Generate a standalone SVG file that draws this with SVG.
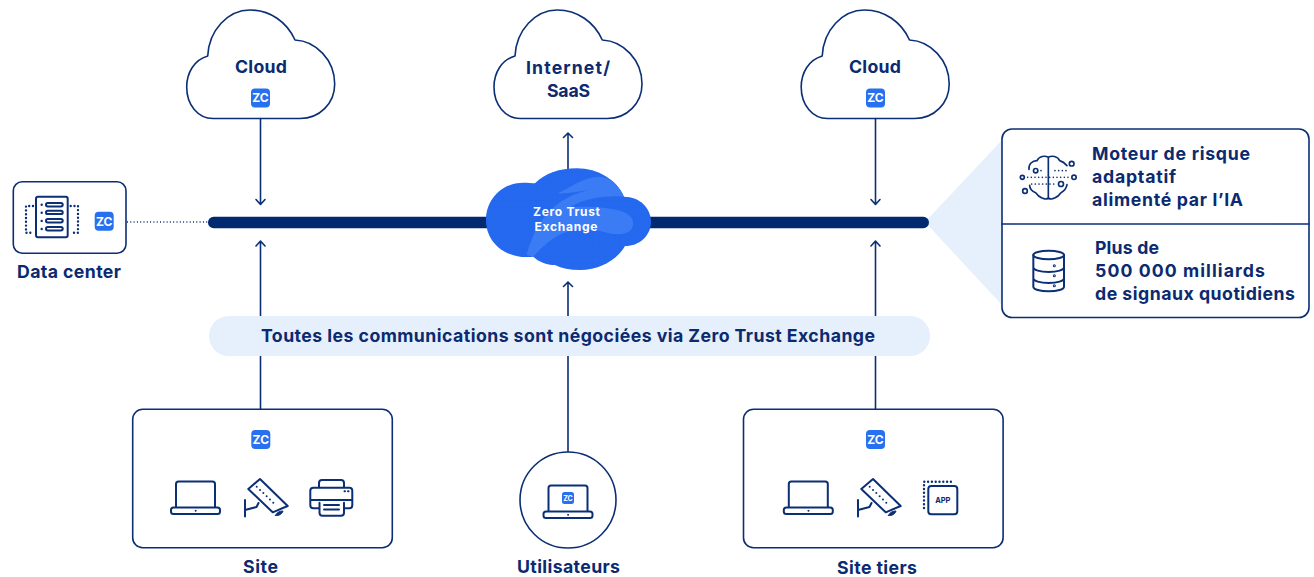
<svg xmlns="http://www.w3.org/2000/svg" width="1314" height="577" viewBox="0 0 1314 577">
<style>
text{font-family:"Inter","Liberation Sans",sans-serif;font-weight:700;fill:#0b2a6f}
.l{font-size:17.700px;text-anchor:middle}
.r{font-size:17.700px}
.z{font-size:12px;fill:#fff;text-anchor:middle}
.w{font-size:12px;fill:#fff;text-anchor:middle}
.s{fill:none;stroke:#0b2f75;stroke-width:1.600;stroke-linejoin:round;stroke-linecap:round}
.i{fill:none;stroke:#0b2f75;stroke-width:2;stroke-linejoin:round;stroke-linecap:round}
.d{fill:none;stroke:#0b2f75;stroke-width:2.400;stroke-linecap:round;stroke-dasharray:0 3.800}
.b{fill:#2770f0}
.bx{fill:#fff;stroke:#0b2f75;stroke-width:1.600}
</style>
<defs>
<path id="cloud" d="M213 118.500H300C320 118.500 334.700 103 334.700 84C334.700 60 316 41 295 40C287 22 270 10 250 10C228 10 209 30 207.700 56C194 60 186.700 73 186.700 87C186.700 105 198 118.500 213 118.500Z"/>
<g id="laptop"><path d="M-19.500 507V484a2.500 2.500 0 0 1 2.500-2.500H17a2.500 2.500 0 0 1 2.500 2.500V507"/><rect x="-24.500" y="507.500" width="49" height="6.500" rx="2.500"/><circle cx="0" cy="510.800" r=".5" fill="#0b2f75" style="stroke-width:1"/></g>
<g id="cam"><path d="M260 479L287.700 506L272.700 512.300L248.300 489Z"/><path d="M245 500V516.500M245 510L256.500 507L258.500 503"/><path d="M256.700 486.700L275 504.300" stroke-dasharray="0 4.600"/><path d="M275.500 515.500C276.500 512.500 279.500 511 283 511C282 514 279 516 275.500 515.500Z" fill="#0b2f75" style="stroke-width:1"/></g>
<g id="zc"><rect x="-9.500" y="-9.500" width="19" height="19" rx="4" class="b"/><text class="z" y="4.300">ZC</text></g>
<pattern id="dots" width="7" height="7" patternUnits="userSpaceOnUse"><circle cx="3.500" cy="3.500" r="1.600" fill="#1f63e4" opacity=".55"/></pattern>
</defs>

<path id="fan" d="M925 222L1002 140V305Z" fill="#e6effc"/>

<g id="connectors" class="s">
<path d="M260.500 118.500V204M256 199.500L260.500 204.500L265 199.500"/>
<path d="M875.500 118.500V204M871 199.500L875.500 204.500L880 199.500"/>
<path d="M260.500 409V241.500M256 246L260.500 241L265 246"/>
<path d="M875.500 409V241.500M871 246L875.500 241L880 246"/>
<path d="M568 170V133M563.500 137.500L568 133L572.500 137.500"/>
<path d="M568 452V282M563.500 286.500L568 282L572.500 286.500"/>
<path d="M127 222H208" style="stroke-width:1.500;stroke-dasharray:1 2.300;stroke-linecap:butt"/>
</g>

<rect id="bar" x="208" y="216.800" width="721" height="11.400" rx="5.700" fill="#002a6f"/>

<g id="banner">
<rect x="209" y="316" width="721" height="40" rx="20" fill="#e6effc"/>
<text x="568" y="342" class="l" textLength="614">Toutes les communications sont négociées via Zero Trust Exchange</text>
</g>

<g id="cloud-left">
<use href="#cloud" class="s"/>
<text x="261" y="73" class="l" textLength="52">Cloud</text>
<use href="#zc" x="260.500" y="98"/>
</g>
<g id="cloud-saas">
<use href="#cloud" class="s" x="307.300"/>
<text x="568" y="74" class="l" textLength="84">Internet/</text>
<text x="568.500" y="97" class="l" textLength="43">SaaS</text>
</g>
<g id="cloud-right">
<use href="#cloud" class="s" x="614.500"/>
<text x="875" y="73" class="l" textLength="52">Cloud</text>
<use href="#zc" x="875.500" y="98"/>
</g>

<g id="data-center">
<rect x="13.300" y="181.800" width="112.700" height="71.500" rx="9" class="bx"/>
<rect x="36" y="196.700" width="31.700" height="40.600" rx="2" class="i"/>
<g class="i"><rect x="46" y="203" width="16.700" height="3.400" rx="1.700"/><rect x="46" y="210.700" width="16.700" height="3.400" rx="1.700"/><rect x="46" y="219" width="16.700" height="3.400" rx="1.700"/><rect x="46" y="227" width="16.700" height="3.400" rx="1.700"/></g>
<path class="d" d="M41.700 204.700V230" style="stroke-dasharray:0 8.100"/>
<path class="d" d="M33 206H26V232.700H33M70.700 206H78V232.700H70.700"/>
<use href="#zc" x="104.200" y="221.200"/>
<text x="69" y="278" class="l" textLength="104">Data center</text>
</g>

<g id="zero-trust-exchange">
<g transform="translate(470 120) scale(.33333)">
<path d="M48 300C48 235 100 188 160 188C175 188 185 190 195 190C225 160 270 145 320 145C385 145 440 180 462 230C510 230 543 265 543 305C543 345 510 378 465 378C440 420 390 450 330 450C300 450 275 445 255 435C230 435 205 425 190 410C110 420 48 370 48 300Z" fill="#2469ef"/>
<path d="M48 300C48 235 100 188 160 188C175 188 185 190 195 190C225 160 270 145 320 145C385 145 440 180 462 230C510 230 543 265 543 305C543 345 510 378 465 378C440 420 390 450 330 450C300 450 275 445 255 435C230 435 205 425 190 410C110 420 48 370 48 300Z" fill="url(#dots)"/>
<path d="M170 405C190 330 225 270 290 235C310 224 340 214 365 208C330 214 295 222 262 220C300 205 335 172 385 170C420 170 447 195 462 230C420 226 345 232 300 262C340 258 400 262 440 270C475 276 495 295 488 320C480 345 440 348 400 335C370 326 330 322 290 335C250 350 215 380 190 410Z" fill="#3b7cf5"/>
</g>
<text x="566.500" y="216" class="w" textLength="67">Zero Trust</text>
<text x="566" y="230.500" class="w" textLength="63">Exchange</text>
</g>

<g id="insights">
<rect x="1002" y="129" width="307" height="188.500" rx="10" class="bx"/>
<path d="M1002 224H1309" class="s"/>
<g transform="translate(1015 150) scale(.33333)" class="i" style="stroke-width:5">
<path d="M100 22C90 16 72 18 66 32C52 32 40 42 42 58M100 22C110 16 128 18 134 32C142 34 150 40 156 47M100 22V144M100 144C90 152 72 142 62 128C50 124 44 114 44 106M100 144C110 152 128 142 138 128C146 124 154 116 156 104"/>
<circle cx="62" cy="62" r="6.500"/><circle cx="170" cy="41" r="7"/><circle cx="22" cy="82" r="6"/><circle cx="177" cy="82" r="6.500"/><circle cx="138" cy="102" r="7.500"/><circle cx="30" cy="123" r="7"/>
<path d="M38 82H166M120 62H162M50 102H122M78 62H88" stroke-dasharray="0 11"/>
</g>
<g transform="translate(920 120) scale(.33333)" class="i" style="stroke-width:6">
<ellipse cx="386" cy="405" rx="46" ry="13"/>
<path d="M340 405V500C340 508 360 514 386 514C412 514 432 508 432 500V405M340 442C340 450 360 456 386 456C412 456 432 450 432 442M340 475C340 483 360 489 386 489C412 489 432 483 432 475"/>
<circle cx="403" cy="437" r="1.500"/><circle cx="403" cy="467" r="1.500"/><circle cx="403" cy="497" r="1.500"/>
</g>
<text x="1092" y="160" class="r" textLength="158">Moteur de risque</text>
<text x="1092" y="183" class="r" textLength="84">adaptatif</text>
<text x="1092" y="206" class="r" textLength="151">alimenté par l’IA</text>
<text x="1095" y="254" class="r" textLength="64">Plus de</text>
<text x="1095" y="277" class="r" textLength="170">500 000 milliards</text>
<text x="1095" y="300" class="r" textLength="200">de signaux quotidiens</text>
</g>

<g id="site">
<rect x="132.700" y="409.300" width="259.600" height="138.400" rx="10" class="bx"/>
<use href="#zc" x="260.800" y="439.500"/>
<use href="#laptop" x="195.500" class="i"/>
<use href="#cam" class="i"/>
<g class="i">
<path d="M319 487V483a3 3 0 0 1 3-3H341a3 3 0 0 1 3 3V487"/>
<path d="M319 508.300H313.300a3 3 0 0 1-3-3V490.700a3 3 0 0 1 3-3H349.300a3 3 0 0 1 3 3V505.300a3 3 0 0 1-3 3H344"/>
<path d="M311 500H352"/>
<path d="M319.500 502.700V512.700a3 3 0 0 0 3 3H341a3 3 0 0 0 3-3V502.700"/>
<path d="M324 505H339M324 509.500H339"/>
<path d="M344.500 491.200H345M348 491.200H348.500"/>
</g>
<text x="260.500" y="573" class="l" textLength="35">Site</text>
</g>

<g id="users">
<circle cx="568" cy="500" r="48" class="bx"/>
<use href="#laptop" x="568" y="4" class="i"/>
<rect x="562" y="492" width="12" height="12" rx="2.500" class="b"/>
<text x="568" y="500.500" class="z" style="font-size:7px">ZC</text>
<text x="568.500" y="573" class="l" textLength="103">Utilisateurs</text>
</g>

<g id="site-tiers">
<rect x="743.500" y="409.300" width="259.600" height="138.400" rx="10" class="bx"/>
<use href="#zc" x="875.500" y="439.500"/>
<use href="#laptop" x="808.300" class="i"/>
<use href="#cam" x="613" class="i"/>
<path class="d" d="M924 508V481.700H951"/>
<rect x="928.300" y="486" width="29" height="28.300" rx="3" class="i"/>
<text x="942.800" y="503" style="font-size:7.500px;text-anchor:middle">APP</text>
<text x="877" y="574" class="l" textLength="80">Site tiers</text>
</g>
</svg>
